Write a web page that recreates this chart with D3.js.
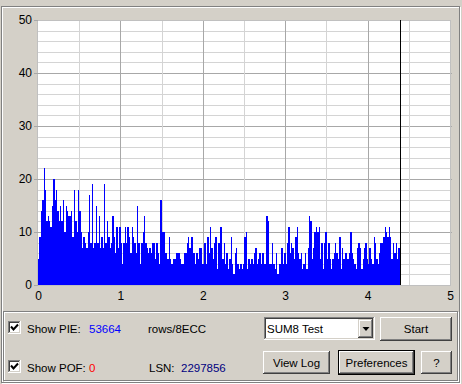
<!DOCTYPE html>
<html>
<head>
<meta charset="utf-8">
<script src="https://cdn.jsdelivr.net/npm/d3@7"></script>
<style>
body { margin: 0; background: #d4d0c8; }
svg { display: block; }
text { font-family: Arial, "Liberation Sans", sans-serif; }
</style>
</head>
<body>
<script>
// PIE per sample (rows/8ECC), left to right
var pieValues = [
   5,9,14,16,22,18,12,13,12,11,15,20,16,18,14,12,15,12,16,10,15,14,13,13,14,9,18,12,10,18,
   14,10,7,9,8,7,10,17,8,19,7,8,15,8,13,7,9,7,19,8,12,9,7,8,13,9,6,11,7,11,
   8,4,8,11,8,11,9,6,11,9,8,6,15,8,4,8,10,13,8,7,6,7,6,8,8,5,8,6,4,
   16,10,10,6,6,5,9,5,4,5,5,6,6,6,5,4,4,6,6,8,9,7,9,9,6,4,6,5,
   7,7,4,4,8,4,9,6,11,7,5,8,9,3,8,11,11,5,8,4,6,3,5,9,4,2,6,7,4,3,
   4,3,4,9,10,3,5,4,5,4,6,7,4,5,6,4,6,4,4,13,12,4,4,8,4,3,6,2,4,
   4,7,4,6,4,8,11,6,8,7,5,9,11,6,5,6,3,4,6,3,7,13,
   12,5,7,10,11,10,11,5,8,3,8,10,5,8,5,3,5,6,8,6,5,9,3,7,5,6,6,5,6,10,
   6,5,4,3,7,8,7,3,5,7,8,5,4,7,5,4,9,8,5,4,6,8,8,9,11,10,9,11,9,5,8,6,8,5,7
];
var scanEnd = 4.39;      // position (GB) of the last sample
var markerPos = 4.395;   // current position line
var xTicks = [0, 1, 2, 3, 4, 5];
var yTicks = [0, 10, 20, 30, 40, 50];
var pieTotal = "53664";
var pofTotal = "0";
var lsnValue = "2297856";
var testModes = ["SUM8 Test"];

var W = 462, H = 384;
var svg = d3.select("body").append("svg")
   .attr("width", W)
   .attr("height", H);

svg.append("rect").attr("width", W).attr("height", H).style("fill", "#d4d0c8");

function px(g, x, y, w, h, c) {
   g.append("rect").attr("x", x).attr("y", y).attr("width", w).attr("height", h).style("fill", c);
}

function bevel(g, x, y, w, h, tl, br) {
   px(g, x, y, w - 1, 1, tl);
   px(g, x, y, 1, h - 1, tl);
   px(g, x, y + h - 1, w, 1, br);
   px(g, x + w - 1, y, 1, h, br);
}

function etched(g, x, y, w, h) {
   g.append("rect").attr("x", x + 1.5).attr("y", y + 1.5).attr("width", w - 1).attr("height", h - 1)
      .style("fill", "none").style("stroke", "#ffffff");
   g.append("rect").attr("x", x + 0.5).attr("y", y + 0.5).attr("width", w - 1).attr("height", h - 1)
      .style("fill", "none").style("stroke", "#808080");
}

// frames
etched(svg, 1, 6, 459, 377);
etched(svg, 3, 311, 455, 70);

// plot
var x = d3.scaleLinear().domain([0, 5]).range([38, 450]);
var y = d3.scaleLinear().domain([0, 50]).range([285, 20]);

var plot = svg.append("g").attr("shape-rendering", "crispEdges");
plot.append("rect")
   .attr("x", x(0)).attr("y", y(50))
   .attr("width", x(5) - x(0)).attr("height", y(0) - y(50))
   .style("fill", "#ffffff");

var hGrid = d3.range(2, 50, 2);
var vGrid = d3.range(0.5, 5, 0.5);

plot.selectAll(".hg").data(hGrid).enter().append("line")
   .attr("x1", x(0)).attr("x2", x(5))
   .attr("y1", function(d) { return Math.round(y(d)) + 0.5 })
   .attr("y2", function(d) { return Math.round(y(d)) + 0.5 })
   .style("stroke", function(d) { return d % 10 == 0 ? "#a8a8a8" : "#d4d4d4" });

plot.selectAll(".vg").data(vGrid).enter().append("line")
   .attr("y1", y(50)).attr("y2", y(0))
   .attr("x1", function(d) { return Math.round(x(d)) + 0.5 })
   .attr("x2", function(d) { return Math.round(x(d)) + 0.5 })
   .style("stroke", function(d) { return d % 1 == 0 ? "#a8a8a8" : "#d4d4d4" });

// right side small ticks
plot.selectAll(".rt").data([10, 20, 30, 40]).enter().append("line")
   .attr("x1", x(5)).attr("x2", x(5) + 2)
   .attr("y1", function(d) { return Math.round(y(d)) + 0.5 })
   .attr("y2", function(d) { return Math.round(y(d)) + 0.5 })
   .style("stroke", "#a8a8a8");

plot.append("rect")
   .attr("x", x(0) - 0.5).attr("y", y(50) + 0.5)
   .attr("width", x(5) - x(0) + 0.5).attr("height", y(0) - y(50))
   .style("fill", "none").style("stroke", "#c0c0c0");

// PIE bars
var step = scanEnd / pieValues.length;
var pieArea = d3.area()
   .x(function(d, i) { return x(i * step) })
   .y0(y(0))
   .y1(function(d) { return y(d) })
   .curve(d3.curveStepAfter);

plot.append("path")
   .datum(pieValues.concat([pieValues[pieValues.length - 1]]))
   .attr("d", pieArea)
   .style("fill", "#0000ff");

plot.append("line")
   .attr("x1", Math.round(x(markerPos)) + 0.5).attr("x2", Math.round(x(markerPos)) + 0.5)
   .attr("y1", y(50)).attr("y2", y(0))
   .style("stroke", "#000000");

// axes
var yAxis = svg.append("g")
   .attr("transform", "translate(" + x(0) + ",0)")
   .call(d3.axisLeft(y).tickValues(yTicks).tickSizeInner(4).tickSizeOuter(0).tickPadding(2));
yAxis.select(".domain").remove();
yAxis.selectAll("line").style("stroke", "#a8a8a8").attr("shape-rendering", "crispEdges");
yAxis.selectAll("text").style("font-size", "12px").style("font-family", "Arial, 'Liberation Sans', sans-serif").style("fill", "#000");

var xAxis = svg.append("g")
   .attr("transform", "translate(0," + y(0) + ")")
   .call(d3.axisBottom(x).tickValues(xTicks).tickFormat(d3.format("d")).tickSize(0).tickPadding(6));
xAxis.select(".domain").remove();
xAxis.selectAll("text").style("font-size", "12px").style("font-family", "Arial, 'Liberation Sans', sans-serif").style("fill", "#000");

// lower panel
var ui = svg.append("g").attr("shape-rendering", "crispEdges");

function checkbox(cx, cy) {
   px(ui, cx, cy, 13, 13, "#ffffff");
   bevel(ui, cx, cy, 13, 13, "#808080", "#ffffff");
   bevel(ui, cx + 1, cy + 1, 11, 11, "#404040", "#d4d0c8");
   svg.append("path")
      .attr("d", "M" + (cx + 3) + "," + (cy + 5.5) + " L" + (cx + 5.5) + "," + (cy + 8.5) + " L" + (cx + 10) + "," + (cy + 3.5))
      .style("fill", "none").style("stroke", "#000").style("stroke-width", 2);
}

function label(tx, ty, s, col, anchor) {
   svg.append("text").attr("x", tx).attr("y", ty)
      .attr("text-anchor", anchor || "start")
      .style("font-size", "11.5px").style("fill", col || "#000")
      .text(s);
}

function button(bx, by, bw, bh, s, isDefault) {
   if (isDefault) {
      bevel(ui, bx, by, bw, bh, "#000", "#000");
      bx += 1; by += 1; bw -= 2; bh -= 2;
   }
   bevel(ui, bx, by, bw, bh, "#ffffff", "#404040");
   bevel(ui, bx + 1, by + 1, bw - 2, bh - 2, "#d4d0c8", "#808080");
   label(bx + bw / 2, by + bh / 2 + 4, s, "#000", "middle");
}

checkbox(8, 321);
checkbox(8, 360);
label(27, 332.5, "Show PIE:");
label(89, 332.5, pieTotal, "#0000ff");
label(148, 332.5, "rows/8ECC");
label(27, 371.5, "Show POF:");
label(89, 371.5, pofTotal, "#ff0000");
label(149, 371.5, "LSN:");
label(181, 371.5, lsnValue, "#000080");

// combo box
px(ui, 264, 317, 111, 23, "#ffffff");
bevel(ui, 264, 317, 111, 23, "#808080", "#ffffff");
bevel(ui, 265, 318, 109, 21, "#404040", "#d4d0c8");
bevel(ui, 358, 319, 15, 19, "#d4d0c8", "#404040");
bevel(ui, 359, 320, 13, 17, "#ffffff", "#808080");
px(ui, 360, 321, 11, 15, "#d4d0c8");
svg.append("path").attr("d", "M362.5,327 L369.5,327 L366,331 Z").style("fill", "#000");
label(267, 333, testModes[0]);

button(380, 317, 72, 24, "Start", false);
button(263, 351, 67, 23, "View Log", false);
button(338, 350, 77, 25, "Preferences", true);
button(421, 351, 31, 23, "?", false);
</script>
</body>
</html>
